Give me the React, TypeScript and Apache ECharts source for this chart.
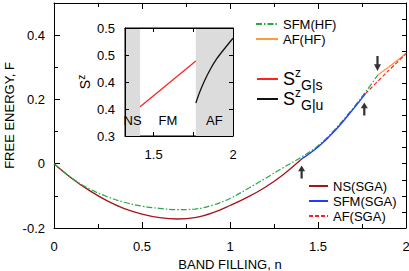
import React, { useEffect, useRef } from "react";
import * as echarts from "echarts";

// ---- Main panel data (band filling n, free energy F) ----
const nsSgaN = [0, 0.1, 0.2, 0.3, 0.4, 0.5, 0.6, 0.7, 0.8, 0.9, 1.0, 1.1, 1.2, 1.3, 1.41];
const nsSgaF = [0, -0.045, -0.083, -0.115, -0.14, -0.157, -0.168, -0.172, -0.168, -0.153, -0.13, -0.104, -0.073, -0.035, 0.016];

const sfmSgaN = [1.41, 1.5, 1.6, 1.7, 1.77];
const sfmSgaF = [0.016, 0.052, 0.105, 0.17, 0.218];

const afSgaN = [1.77, 1.85, 1.93, 2.0];
const afSgaF = [0.218, 0.262, 0.305, 0.342];

const sfmHfN = [0, 0.1, 0.2, 0.3, 0.4, 0.5, 0.6, 0.7, 0.8, 0.9, 1.0, 1.1, 1.2, 1.3, 1.41, 1.5, 1.6, 1.7, 1.77, 1.84];
const sfmHfF = [0, -0.044, -0.078, -0.102, -0.12, -0.132, -0.139, -0.143, -0.141, -0.129, -0.108, -0.078, -0.046, -0.013, 0.022, 0.056, 0.109, 0.174, 0.223, 0.276];

const afHfN = [1.84, 1.9, 1.95, 2.0];
const afHfF = [0.276, 0.3, 0.321, 0.344];

// arrows marking the transitions (n, F)
const upArrows = [[1.407, -0.026], [1.763, 0.17]];
const downArrows = [[1.838, 0.312]];

// ---- Inset data (n, S^z) ----
const szSN = [1.415, 1.766];
const szSV = [0.354, 0.439];
const szUN = [1.766, 1.79, 1.82, 1.86, 1.9, 1.95, 2.0];
const szUV = [0.361, 0.381, 0.402, 0.425, 0.444, 0.463, 0.481];

// phase boundaries in inset
const phaseNames = ["NS", "FM", "AF"];
const phaseBounds = [1.32, 1.415, 1.766, 2.0];

// tick values
const mainXTicksMajorInterval = 0.5;
const mainYLabels = [-0.2, 0, 0.2, 0.4];
const mainYMinor = [-0.1, 0.1, 0.3];
const insetXTicks = [1.5, 1.75, 2];
const insetXLabels = [1.5, 2];

const zip = (a: number[], b: number[]) => a.map((v, i) => [v, b[i]]);

const FONT = "'Liberation Sans', Arial, Helvetica, sans-serif";
const BLACK = "#000";

const upPath = "path://M5,0 L10,8 L6.6,8 L6.6,18 L3.4,18 L3.4,8 L0,8 Z";

export default function App() {
  const ref = useRef<HTMLDivElement>(null);
  useEffect(() => {
    if (!ref.current) return;
    const chart = echarts.init(ref.current, null, { renderer: "svg" });

    const axisLine = { show: true, onZero: false, lineStyle: { color: BLACK, width: 1 } };
    const noSplit = { show: false };
    const labelStyle = { color: BLACK, fontSize: 13, fontFamily: FONT };

    const mainX = (position: string, showLabel: boolean) => ({
      type: "value",
      gridIndex: 0,
      position,
      min: 0,
      max: 2,
      interval: mainXTicksMajorInterval,
      axisLine,
      axisTick: { show: true, inside: true, length: 6, lineStyle: { color: BLACK } },
      minorTick: { show: true, splitNumber: 2, length: 4, lineStyle: { color: BLACK } },
      splitLine: noSplit,
      minorSplitLine: noSplit,
      axisLabel: { show: showLabel, ...labelStyle, margin: 12 },
      name: showLabel ? "BAND FILLING, n" : "",
      nameLocation: "middle",
      nameGap: 22,
      nameTextStyle: { ...labelStyle },
    });

    const insetX = (position: string, showLabel: boolean) => ({
      type: "value",
      gridIndex: 1,
      position,
      min: 1.32,
      max: 2,
      axisLine,
      axisTick: { show: true, inside: true, length: 4, customValues: insetXTicks, lineStyle: { color: BLACK } },
      splitLine: noSplit,
      axisLabel: { show: showLabel, ...labelStyle, margin: 12, customValues: insetXLabels },
      z: 10,
    });

    const legendBase = {
      orient: "vertical", itemGap: 0, padding: 0,
      itemStyle: { opacity: 0, borderWidth: 0 },
    };
    const plainLegend = (name: string, left: number, cy: number, w: number) => ({
      ...legendBase,
      data: [name], left, top: cy - 7.5, itemWidth: w, itemHeight: 10,
      textStyle: { ...labelStyle, lineHeight: 15 },
    });
    const richS = {
      S: { fontSize: 18, fontFamily: FONT, color: BLACK, lineHeight: 25 },
      sup: { fontSize: 12, fontFamily: FONT, color: BLACK, verticalAlign: "top" },
      sub: { fontSize: 14, fontFamily: FONT, color: BLACK, verticalAlign: "bottom" },
    };
    const sLegend = (name: string, sub: string, cy: number) => ({
      ...legendBase,
      data: [name], left: 256, top: cy - 12.5, itemWidth: 21, itemHeight: 10,
      formatter: () => `{S|S}{sup|z}{sub|${sub}}`,
      textStyle: { ...labelStyle, rich: richS },
    });

    const option: any = {
      animation: false,
      backgroundColor: "#fff",
      textStyle: { fontFamily: FONT },
      grid: [
        { left: 54, right: 3, top: 3, bottom: 43, containLabel: false, outerBoundsMode: "none" },
        {
          left: 125, top: 28, width: 108, height: 108, outerBoundsMode: "none",
          show: true, backgroundColor: "#fff", borderColor: BLACK, borderWidth: 1,
        },
      ],
      xAxis: [
        mainX("bottom", true),
        mainX("top", false),
        insetX("bottom", true),
        insetX("top", false),
      ],
      yAxis: [
        {
          type: "value", gridIndex: 0, position: "left", min: -0.2, max: 0.5,
          axisLine,
          axisTick: { show: true, inside: true, length: 6, customValues: mainYLabels, lineStyle: { color: BLACK } },
          splitLine: noSplit,
          axisLabel: { ...labelStyle, margin: 9, customValues: mainYLabels },
          name: "FREE ENERGY, F",
          nameLocation: "middle",
          nameGap: 38,
          nameMoveOverlap: false,
          nameRotate: 90,
          nameTextStyle: { ...labelStyle },
        },
        {
          type: "value", gridIndex: 0, position: "left", min: -0.2, max: 0.5,
          axisLine: { show: false },
          axisTick: { show: true, inside: true, length: 4, customValues: mainYMinor, lineStyle: { color: BLACK } },
          splitLine: noSplit,
          axisLabel: { show: false },
        },
        {
          type: "value", gridIndex: 0, position: "right", min: -0.2, max: 0.5, interval: 0.05,
          axisLine,
          axisTick: { show: true, inside: true, length: 4, lineStyle: { color: BLACK } },
          splitLine: noSplit,
          axisLabel: { show: false },
        },
        {
          type: "value", gridIndex: 1, position: "left", min: 0.3, max: 0.5, interval: 0.05,
          axisLine,
          axisTick: { show: true, inside: true, length: 4, lineStyle: { color: BLACK } },
          splitLine: noSplit,
          z: 10,
          axisLabel: {
            ...labelStyle, margin: 10, interval: 1,
            formatter: (v: number) => (Math.round(v * 10) / 10).toString(),
          },
          name: "{S|S}{sup|z}",
          nameLocation: "middle",
          nameGap: 31,
          nameRotate: 90,
          nameTextStyle: {
            ...labelStyle,
            rich: {
              S: { fontSize: 14, fontFamily: FONT, color: BLACK, lineHeight: 18 },
              sup: { fontSize: 10, fontFamily: FONT, color: BLACK, verticalAlign: "top" },
            },
          },
        },
        {
          type: "value", gridIndex: 1, position: "right", min: 0.3, max: 0.5, interval: 0.05,
          axisLine,
          axisTick: { show: true, inside: true, length: 4, lineStyle: { color: BLACK } },
          splitLine: noSplit,
          axisLabel: { show: false },
          z: 10,
        },
      ],
      legend: [
        {
          ...legendBase,
          data: ["SFM(HF)", "AF(HF)"], left: 255, top: 16.5, itemWidth: 22, itemHeight: 10,
          textStyle: { ...labelStyle, lineHeight: 15 },
        },
        sLegend("SzGs", "G|s", 79),
        sLegend("SzGu", "G|u", 99),
        plainLegend("NS(SGA)", 308, 186, 19),
        plainLegend("SFM(SGA)", 308, 201, 19),
        plainLegend("AF(SGA)", 308, 216, 19),
      ],
      series: [
        {
          name: "NS(SGA)", type: "line", xAxisIndex: 0, yAxisIndex: 0,
          data: zip(nsSgaN, nsSgaF), smooth: 0.4, symbol: "none",
          lineStyle: { color: "#a3141c", width: 1.3 }, itemStyle: { color: "#a3141c" },
        },
        {
          name: "SFM(HF)", type: "line", xAxisIndex: 0, yAxisIndex: 0,
          data: zip(sfmHfN, sfmHfF), smooth: 0.4, symbol: "none",
          lineStyle: { color: "#27a844", width: 1.2, type: [6, 2, 1.5, 2] }, itemStyle: { color: "#27a844" },
        },
        {
          name: "SFM(SGA)", type: "line", xAxisIndex: 0, yAxisIndex: 0,
          data: zip(sfmSgaN, sfmSgaF), smooth: 0.4, symbol: "none",
          lineStyle: { color: "#1f3cff", width: 1.4 }, itemStyle: { color: "#1f3cff" },
        },
        {
          name: "AF(HF)", type: "line", xAxisIndex: 0, yAxisIndex: 0,
          data: zip(afHfN, afHfF), smooth: 0.4, symbol: "none",
          lineStyle: { color: "#ff9a3c", width: 1.3 }, itemStyle: { color: "#ff9a3c" },
        },
        {
          name: "AF(SGA)", type: "line", xAxisIndex: 0, yAxisIndex: 0,
          data: zip(afSgaN, afSgaF), smooth: 0.4, symbol: "none",
          lineStyle: { color: "#ff1e1e", width: 1.1, type: [4, 2] }, itemStyle: { color: "#ff1e1e" },
        },
        {
          name: "arrowsUp", type: "scatter", xAxisIndex: 0, yAxisIndex: 0,
          data: upArrows, symbol: upPath, symbolSize: [7, 13],
          itemStyle: { color: BLACK }, silent: true, z: 6,
        },
        {
          name: "arrowsDown", type: "scatter", xAxisIndex: 0, yAxisIndex: 0,
          data: downArrows, symbol: upPath, symbolSize: [7, 15], symbolRotate: 180,
          itemStyle: { color: BLACK }, silent: true, z: 6,
        },
        {
          name: "SzGs", type: "line", xAxisIndex: 2, yAxisIndex: 3,
          data: zip(szSN, szSV), symbol: "none",
          lineStyle: { color: "#ff2020", width: 1.3 }, itemStyle: { color: "#ff2020" },
          markArea: {
            silent: true,
            label: { show: true, position: "insideBottom", distance: 9, ...labelStyle },
            data: phaseNames.map((nm, i) => [
              {
                name: nm, xAxis: phaseBounds[i],
                itemStyle: { color: nm === "FM" ? "rgba(255,255,255,0)" : "#dcdcdc" },
              },
              { xAxis: phaseBounds[i + 1] },
            ]),
          },
        },
        {
          name: "SzGu", type: "line", xAxisIndex: 2, yAxisIndex: 3,
          data: zip(szUN, szUV), smooth: 0.3, symbol: "none",
          lineStyle: { color: "#111", width: 1.3 }, itemStyle: { color: "#111" },
        },
      ],
    };
    chart.setOption(option);
    return () => chart.dispose();
  }, []);
  return <div ref={ref} style={{ width: 409, height: 271, position: "absolute", left: 0, top: 0 }} />;
}
